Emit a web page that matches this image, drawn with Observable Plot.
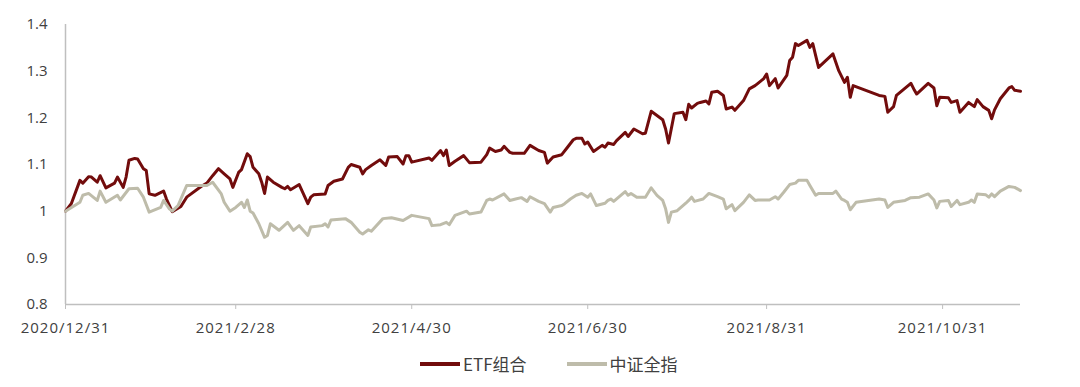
<!DOCTYPE html>
<html><head><meta charset="utf-8">
<script src="https://cdn.jsdelivr.net/npm/d3@7"></script>
<script src="https://cdn.jsdelivr.net/npm/@observablehq/plot@0.6"></script>
<style>
body{margin:0;background:#fff;}
#chart svg{display:block;}
#chart g[aria-label="x-axis tick label"] text{letter-spacing:1px;}
#legend{display:flex;align-items:center;height:47px;padding-left:420px;font-family:"Noto Sans CJK SC","Noto Sans",sans-serif;font-size:17px;color:#404040;}
#legend .sw{display:inline-block;width:40px;height:4px;margin-right:3px;}
#legend .item{display:flex;align-items:center;margin-right:40px;}
</style></head>
<body><div id="chart"></div><div id="legend"></div>
<script>
const seriesNames = ["ETF组合", "中证全指"];
const seriesColors = ["#720c0c", "#bebcaa"];

const etfDates = ["2020-12-31","2021-01-02","2021-01-05","2021-01-06","2021-01-08","2021-01-09","2021-01-11","2021-01-12","2021-01-14","2021-01-17","2021-01-18","2021-01-20","2021-01-21","2021-01-22","2021-01-24","2021-01-25","2021-01-27","2021-01-28","2021-01-29","2021-01-31","2021-02-03","2021-02-04","2021-02-06","2021-02-09","2021-02-11","2021-02-16","2021-02-18","2021-02-20","2021-02-22","2021-02-24","2021-02-26","2021-02-27","2021-03-01","2021-03-02","2021-03-04","2021-03-05","2021-03-06","2021-03-08","2021-03-09","2021-03-10","2021-03-11","2021-03-13","2021-03-16","2021-03-17","2021-03-18","2021-03-19","2021-03-22","2021-03-25","2021-03-26","2021-03-27","2021-03-31","2021-04-01","2021-04-03","2021-04-06","2021-04-08","2021-04-09","2021-04-12","2021-04-13","2021-04-14","2021-04-16","2021-04-19","2021-04-21","2021-04-22","2021-04-25","2021-04-27","2021-04-28","2021-04-29","2021-04-30","2021-05-06","2021-05-07","2021-05-10","2021-05-11","2021-05-12","2021-05-13","2021-05-15","2021-05-18","2021-05-20","2021-05-24","2021-05-26","2021-05-27","2021-05-29","2021-05-31","2021-06-01","2021-06-03","2021-06-04","2021-06-08","2021-06-10","2021-06-13","2021-06-15","2021-06-16","2021-06-18","2021-06-21","2021-06-23","2021-06-25","2021-06-26","2021-06-28","2021-06-29","2021-06-30","2021-07-02","2021-07-05","2021-07-06","2021-07-07","2021-07-09","2021-07-10","2021-07-13","2021-07-14","2021-07-16","2021-07-19","2021-07-20","2021-07-22","2021-07-26","2021-07-27","2021-07-28","2021-07-30","2021-08-02","2021-08-03","2021-08-04","2021-08-05","2021-08-07","2021-08-08","2021-08-10","2021-08-11","2021-08-12","2021-08-14","2021-08-16","2021-08-17","2021-08-19","2021-08-20","2021-08-23","2021-08-25","2021-08-27","2021-08-28","2021-08-30","2021-08-31","2021-09-01","2021-09-03","2021-09-04","2021-09-07","2021-09-08","2021-09-09","2021-09-10","2021-09-11","2021-09-14","2021-09-15","2021-09-16","2021-09-18","2021-09-23","2021-09-25","2021-09-27","2021-09-28","2021-09-29","2021-09-30","2021-10-09","2021-10-11","2021-10-12","2021-10-14","2021-10-15","2021-10-20","2021-10-21","2021-10-22","2021-10-26","2021-10-28","2021-10-29","2021-10-30","2021-11-02","2021-11-03","2021-11-05","2021-11-06","2021-11-09","2021-11-11","2021-11-12","2021-11-14","2021-11-16","2021-11-17","2021-11-18","2021-11-20","2021-11-23","2021-11-24","2021-11-25","2021-11-27"];
const etfValues = [1.000,1.016,1.066,1.060,1.074,1.073,1.062,1.076,1.050,1.060,1.073,1.051,1.073,1.109,1.113,1.112,1.091,1.087,1.037,1.034,1.043,1.026,0.999,1.010,1.030,1.053,1.060,1.076,1.091,1.080,1.069,1.051,1.083,1.089,1.123,1.117,1.094,1.080,1.062,1.038,1.073,1.062,1.051,1.048,1.053,1.046,1.057,1.016,1.030,1.035,1.037,1.055,1.064,1.069,1.094,1.100,1.094,1.080,1.089,1.098,1.110,1.098,1.116,1.117,1.101,1.119,1.119,1.105,1.114,1.109,1.130,1.119,1.131,1.098,1.107,1.119,1.104,1.105,1.121,1.135,1.128,1.131,1.139,1.126,1.124,1.124,1.141,1.130,1.126,1.103,1.116,1.121,1.137,1.153,1.156,1.156,1.144,1.148,1.128,1.141,1.137,1.146,1.143,1.151,1.169,1.160,1.176,1.166,1.167,1.214,1.196,1.176,1.146,1.209,1.212,1.196,1.229,1.221,1.231,1.233,1.236,1.230,1.255,1.257,1.248,1.219,1.223,1.216,1.237,1.262,1.269,1.274,1.284,1.294,1.269,1.284,1.264,1.291,1.323,1.330,1.359,1.355,1.366,1.351,1.359,1.308,1.337,1.301,1.276,1.287,1.244,1.269,1.248,1.246,1.212,1.224,1.248,1.274,1.262,1.251,1.274,1.264,1.226,1.244,1.243,1.233,1.237,1.212,1.233,1.224,1.239,1.224,1.216,1.198,1.217,1.241,1.264,1.267,1.259,1.257];

const csiDates = ["2020-12-31","2021-01-05","2021-01-06","2021-01-08","2021-01-11","2021-01-12","2021-01-14","2021-01-18","2021-01-19","2021-01-22","2021-01-25","2021-01-27","2021-01-29","2021-02-02","2021-02-03","2021-02-05","2021-02-06","2021-02-08","2021-02-11","2021-02-18","2021-02-20","2021-02-23","2021-02-24","2021-02-26","2021-02-28","2021-03-02","2021-03-03","2021-03-04","2021-03-05","2021-03-06","2021-03-08","2021-03-10","2021-03-11","2021-03-12","2021-03-15","2021-03-18","2021-03-20","2021-03-22","2021-03-25","2021-03-26","2021-03-30","2021-03-31","2021-04-01","2021-04-02","2021-04-07","2021-04-09","2021-04-12","2021-04-13","2021-04-15","2021-04-16","2021-04-20","2021-04-23","2021-04-27","2021-04-30","2021-05-06","2021-05-07","2021-05-10","2021-05-12","2021-05-13","2021-05-15","2021-05-19","2021-05-20","2021-05-24","2021-05-26","2021-05-27","2021-05-28","2021-06-01","2021-06-03","2021-06-05","2021-06-07","2021-06-09","2021-06-10","2021-06-13","2021-06-15","2021-06-17","2021-06-18","2021-06-21","2021-06-22","2021-06-24","2021-06-26","2021-06-28","2021-06-30","2021-07-01","2021-07-03","2021-07-06","2021-07-07","2021-07-08","2021-07-09","2021-07-13","2021-07-14","2021-07-15","2021-07-17","2021-07-20","2021-07-22","2021-07-24","2021-07-26","2021-07-27","2021-07-28","2021-07-29","2021-07-31","2021-08-03","2021-08-04","2021-08-05","2021-08-06","2021-08-09","2021-08-11","2021-08-14","2021-08-16","2021-08-17","2021-08-19","2021-08-20","2021-08-23","2021-08-25","2021-08-27","2021-08-28","2021-09-01","2021-09-03","2021-09-04","2021-09-06","2021-09-08","2021-09-10","2021-09-11","2021-09-14","2021-09-15","2021-09-17","2021-09-18","2021-09-23","2021-09-24","2021-09-26","2021-09-27","2021-09-28","2021-09-29","2021-10-01","2021-10-09","2021-10-11","2021-10-12","2021-10-14","2021-10-18","2021-10-20","2021-10-23","2021-10-26","2021-10-28","2021-10-29","2021-10-30","2021-11-02","2021-11-03","2021-11-05","2021-11-06","2021-11-09","2021-11-10","2021-11-11","2021-11-12","2021-11-15","2021-11-16","2021-11-17","2021-11-18","2021-11-20","2021-11-23","2021-11-25","2021-11-27"];
const csiValues = [1.000,1.019,1.034,1.038,1.023,1.043,1.019,1.034,1.024,1.048,1.049,1.030,0.998,1.008,1.023,1.005,1.000,1.012,1.055,1.055,1.062,1.037,1.019,1.000,1.008,1.019,1.008,1.024,1.000,0.996,0.973,0.944,0.948,0.973,0.959,0.976,0.959,0.969,0.948,0.966,0.969,0.973,0.966,0.981,0.984,0.976,0.955,0.951,0.960,0.957,0.984,0.986,0.980,0.991,0.984,0.969,0.971,0.976,0.971,0.991,1.000,0.994,0.998,1.023,1.026,1.024,1.037,1.023,1.026,1.029,1.021,1.031,1.021,1.016,0.998,1.008,1.012,1.016,1.026,1.034,1.038,1.030,1.037,1.012,1.017,1.023,1.026,1.021,1.042,1.034,1.038,1.030,1.030,1.050,1.034,1.023,1.005,0.976,0.998,1.001,1.017,1.023,1.030,1.021,1.026,1.038,1.031,1.026,1.005,1.014,1.001,1.019,1.035,1.023,1.024,1.024,1.031,1.026,1.041,1.057,1.060,1.066,1.066,1.055,1.034,1.038,1.038,1.043,1.026,1.023,1.019,1.003,1.019,1.026,1.024,1.008,1.019,1.023,1.029,1.030,1.037,1.024,1.007,1.021,1.023,1.010,1.023,1.014,1.019,1.024,1.019,1.037,1.035,1.030,1.037,1.031,1.043,1.053,1.051,1.044];

const tickDates = ["2020-12-31","2021-02-28","2021-04-30","2021-06-30","2021-08-31","2021-10-31"];
const tickLabels = ["2020/12/31","2021/2/28","2021/4/30","2021/6/30","2021/8/31","2021/10/31"];
const yTicks = [0.8, 0.9, 1.0, 1.1, 1.2, 1.3, 1.4];
const xStart = "2020-12-31";
const xEnd = "2021-11-27";

const parse = d3.utcParse("%Y-%m-%d");
const etf = etfDates.map((d, i) => ({date: parse(d), value: etfValues[i]}));
const csi = csiDates.map((d, i) => ({date: parse(d), value: csiValues[i]}));
const labelMap = new Map(tickDates.map((d, i) => [+parse(d), tickLabels[i]]));

const chart = Plot.plot({
  width: 1080,
  height: 340,
  marginLeft: 65,
  marginRight: 60,
  marginTop: 24,
  marginBottom: 36,
  style: {fontFamily: '"Open Sans", sans-serif', fontSize: "15px", color: "#404040", background: "#fff"},
  x: {type: "utc", domain: [parse(xStart), parse(xEnd)]},
  y: {domain: [yTicks[0], yTicks[yTicks.length - 1]]},
  marks: [
    Plot.ruleY([yTicks[0]], {stroke: "#bfbfbf", strokeWidth: 1.5}),
    Plot.ruleX([parse(xStart)], {stroke: "#bfbfbf", strokeWidth: 1.5}),
    Plot.axisX({ticks: tickDates.map(parse), tickFormat: d => labelMap.get(+d), tickSize: 5, tickPadding: 13, stroke: "#bfbfbf", fill: "#404040", label: null}),
    Plot.axisY({ticks: yTicks, tickFormat: d => String(+d.toFixed(1)), tickSize: 0, tickPadding: 18, fill: "#404040", label: null}),
    Plot.line(etf, {x: "date", y: "value", stroke: seriesColors[0], strokeWidth: 3, strokeLinejoin: "round"}),
    Plot.line(csi, {x: "date", y: "value", stroke: seriesColors[1], strokeWidth: 3, strokeLinejoin: "round"})
  ]
});
document.getElementById("chart").appendChild(chart);

const legend = document.getElementById("legend");
seriesNames.forEach((name, i) => {
  const item = document.createElement("div");
  item.className = "item";
  const sw = document.createElement("span");
  sw.className = "sw";
  sw.style.background = seriesColors[i];
  const t = document.createElement("span");
  t.textContent = name;
  item.appendChild(sw);
  item.appendChild(t);
  legend.appendChild(item);
});
</script>
</body></html>
